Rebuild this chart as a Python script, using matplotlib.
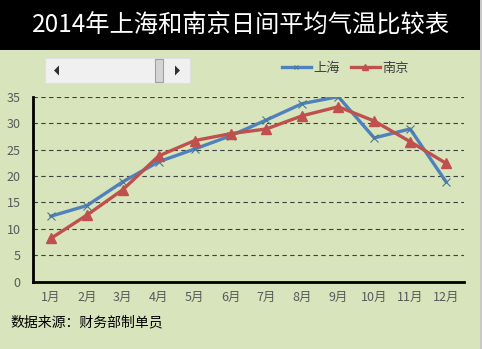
import matplotlib
matplotlib.use('Agg')
import matplotlib.pyplot as plt
from matplotlib.patches import Rectangle, Polygon
import numpy as np

plt.rcParams['font.family'] = ['Noto Sans CJK SC', 'DejaVu Sans']
plt.rcParams['axes.unicode_minus'] = False

# 数据
months = ['1月', '2月', '3月', '4月', '5月', '6月', '7月', '8月', '9月', '10月', '11月', '12月']
shanghai = [12.4, 14.4, 18.9, 22.7, 25.1, 27.6, 30.6, 33.7, 35.0, 27.2, 28.9, 18.9]
nanjing = [8.2, 12.6, 17.4, 23.8, 26.7, 28.0, 28.9, 31.4, 33.1, 30.4, 26.5, 22.4]
yticks = [0, 5, 10, 15, 20, 25, 30, 35]

W, H = 482, 349
bg = '#d8e4bc'
fig = plt.figure(figsize=(W / 100, H / 100), dpi=100, facecolor=bg)

# 标题栏
fig.patches.append(Rectangle((0, 1 - 50 / H), 1, 50 / H, transform=fig.transFigure,
                             facecolor='black', edgecolor='none', zorder=0))
fig.text(241 / W, 1 - 25 / H, '2014年上海和南京日间平均气温比较表', color='white',
         fontsize=17.5, ha='center', va='center')
# 右侧边框
fig.patches.append(Rectangle((480 / W, 0), 2 / W, 1, transform=fig.transFigure,
                             facecolor='#c8c8c8', edgecolor='none'))

# 滚动条控件
def fx(x):
    return x / W

def fy(y):
    return 1 - y / H

fig.patches.append(Rectangle((fx(45), fy(83)), fx(145), 25 / H, transform=fig.transFigure,
                             facecolor='#f0f0f0', edgecolor='#e0e0e0', lw=0.8))
fig.patches.append(Rectangle((fx(155), fy(82)), fx(8), 23 / H, transform=fig.transFigure,
                             facecolor='#d4d4d4', edgecolor='#a0a0a0', lw=0.8))
fig.patches.append(Polygon([(fx(54), fy(70.5)), (fx(59), fy(65.5)), (fx(59), fy(75.5))],
                           transform=fig.transFigure, facecolor='#303030', edgecolor='none'))
fig.patches.append(Polygon([(fx(180), fy(70.5)), (fx(175), fy(65.5)), (fx(175), fy(75.5))],
                           transform=fig.transFigure, facecolor='#303030', edgecolor='none'))

ax = fig.add_axes([33 / W, 1 - 281.7 / H, (464 - 33) / W, (281.7 - 96.7) / H])
ax.set_facecolor(bg)
x = np.arange(len(months))

ax.plot(x, shanghai, color='#4f81bd', lw=2.4, marker='x', ms=6, mec='#4a7a8c',
        mew=0.8, label='上海', zorder=3)
ax.plot(x, nanjing, color='#c0504d', lw=2.4, marker='^', ms=7, mec='#c0504d',
        label='南京', zorder=4)

ax.set_xlim(-0.5, len(months) - 0.5)
ax.set_ylim(0, 35)
ax.set_yticks(yticks)
ax.set_xticks(x)
ax.set_xticklabels(months)
ax.tick_params(length=0, labelsize=9, labelcolor='#595959')
ax.tick_params(axis='y', pad=9)
ax.tick_params(axis='x', pad=7)
ax.yaxis.grid(True, ls=(0, (4, 3)), color='#404040', lw=0.8)
ax.set_axisbelow(True)
for s in ['top', 'right']:
    ax.spines[s].set_visible(False)
for s in ['left', 'bottom']:
    ax.spines[s].set_linewidth(2)
    ax.spines[s].set_color('black')

leg = ax.legend(loc='lower right', bbox_to_anchor=(414 / W, 1 - 80 / H), bbox_transform=fig.transFigure,
                ncol=2, frameon=False, fontsize=9.5, handlelength=2.2, handletextpad=0.2,
                columnspacing=0.8, borderaxespad=0, markerscale=0.6)
for t in leg.get_texts():
    t.set_color('#404040')

fig.text(10 / W, 1 - 322 / H, '数据来源：财务部制单员', fontsize=10, color='black',
         ha='left', va='center')

fig.savefig('out.png', dpi=100, facecolor=bg)
